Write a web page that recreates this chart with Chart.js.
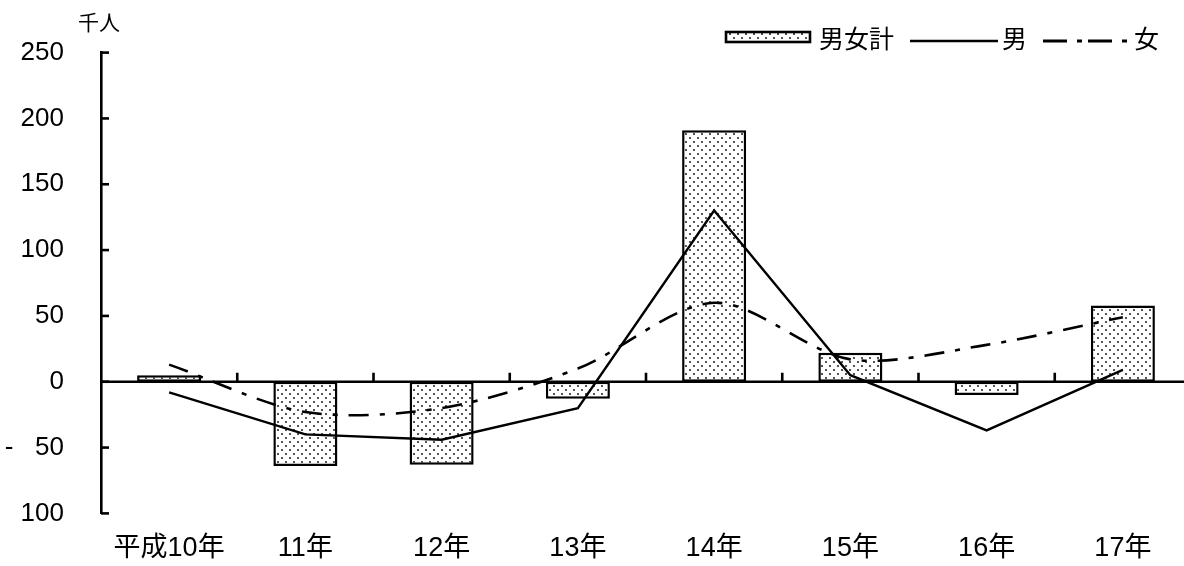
<!DOCTYPE html>
<html lang="ja">
<head>
<meta charset="utf-8">
<title>就業者数の対前年増減</title>
<script src="https://cdn.jsdelivr.net/npm/chart.js@4.4.1/dist/chart.umd.min.js"></script>
<style>
  html, body { margin: 0; padding: 0; background: #fff; overflow: hidden; }
  #wrap { position: relative; width: 1191px; height: 566px; }
</style>
</head>
<body>
<div id="wrap"><canvas id="chart" width="1191" height="566"></canvas></div>
<script>
// 年次ごとの対前年増減（千人）
const categories = ['平成10年', '11年', '12年', '13年', '14年', '15年', '16年', '17年'];
const totalValues = [5, -64, -63, -13, 191, 22, -10, 58];
const maleValues = [-8, -40, -44, -20, 130, 5, -37, 9];
const femaleValues = [13, -23, -20, 10, 60, 17, 28, 49];
const yTickLabels = { 250: '250', 200: '200', 150: '150', 100: '100', 50: '50', 0: '0', '-50': '-   50', '-100': '100' };

const FONT = "'Liberation Sans', Arial, 'Noto Sans CJK JP', sans-serif";

// 網点（ドット）塗りつぶし
function dotPattern() {
  const c = document.createElement('canvas');
  c.width = 8; c.height = 8;
  const g = c.getContext('2d');
  g.fillStyle = '#ffffff';
  g.fillRect(0, 0, 8, 8);
  g.fillStyle = '#555555';
  g.fillRect(1, 1, 2, 2);
  g.fillRect(5, 5, 2, 2);
  return g.createPattern(c, 'repeat');
}
const pattern = dotPattern();

// 軸線・目盛り・凡例・単位
const axisPlugin = {
  id: 'axisDecor',
  beforeDatasetsDraw(chart) {
    const { ctx, chartArea, scales } = chart;
    const x = scales.x, y = scales.y;
    const y0 = y.getPixelForValue(0);
    ctx.save();
    ctx.strokeStyle = '#000';
    ctx.lineWidth = 2.6;
    // ゼロ線
    ctx.beginPath();
    ctx.moveTo(chartArea.left, y0);
    ctx.lineTo(chartArea.right + 2, y0);
    ctx.stroke();
    // 区切り目盛り（上向き）
    for (let i = 1; i < categories.length; i++) {
      const px = (x.getPixelForValue(i - 1) + x.getPixelForValue(i)) / 2;
      ctx.beginPath();
      ctx.moveTo(px, y0);
      ctx.lineTo(px, y0 - 9);
      ctx.stroke();
    }
    // 縦軸の内向き目盛り
    y.ticks.forEach(t => {
      const py = y.getPixelForValue(t.value);
      ctx.beginPath();
      ctx.moveTo(chartArea.left, py);
      ctx.lineTo(chartArea.left + 8, py);
      ctx.stroke();
    });
    ctx.restore();
  },
  afterDraw(chart) {
    const { ctx } = chart;
    ctx.save();
    // 単位
    ctx.fillStyle = '#000';
    ctx.font = '21px ' + FONT;
    ctx.textBaseline = 'middle';
    ctx.textAlign = 'left';
    ctx.fillText('千人', 78, 24);

    // 凡例
    const ly = 41;
    ctx.font = '25px ' + FONT;
    // 男女計
    ctx.fillStyle = pattern;
    ctx.fillRect(726, 32, 84, 10);
    ctx.strokeStyle = '#000';
    ctx.lineWidth = 2.6;
    ctx.strokeRect(726, 32, 84, 10);
    ctx.fillStyle = '#000';
    ctx.fillText('男女計', 819, ly);
    // 男
    ctx.lineWidth = 2.4;
    ctx.beginPath();
    ctx.moveTo(910, ly);
    ctx.lineTo(998, ly);
    ctx.stroke();
    ctx.fillText('男', 1002, ly);
    // 女
    ctx.lineWidth = 2.8;
    ctx.setLineDash([24, 10, 5, 6]);
    ctx.beginPath();
    ctx.moveTo(1043, ly);
    ctx.lineTo(1128, ly);
    ctx.stroke();
    ctx.setLineDash([]);
    ctx.fillText('女', 1134, ly);
    ctx.restore();
  }
};

new Chart(document.getElementById('chart'), {
  type: 'bar',
  data: {
    labels: categories,
    datasets: [
      {
        type: 'bar',
        label: '男女計',
        data: totalValues,
        backgroundColor: pattern,
        borderColor: '#000',
        borderWidth: 2.5,
        borderSkipped: false,
        categoryPercentage: 1.0,
        barPercentage: 0.47,
        order: 3
      },
      {
        type: 'line',
        label: '男',
        data: maleValues,
        borderColor: '#000',
        borderWidth: 2.4,
        pointRadius: 0,
        tension: 0,
        fill: false,
        order: 1
      },
      {
        type: 'line',
        label: '女',
        data: femaleValues,
        borderColor: '#000',
        borderWidth: 2.6,
        borderDash: [20, 11, 5, 11],
        pointRadius: 0,
        tension: 0.3,
        fill: false,
        order: 2
      }
    ]
  },
  options: {
    responsive: false,
    animation: false,
    devicePixelRatio: 1,
    layout: { padding: { left: 0, right: 0, top: 49, bottom: 0 } },
    plugins: {
      legend: { display: false },
      tooltip: { enabled: false }
    },
    scales: {
      x: {
        offset: true,
        grid: { display: false, drawTicks: false },
        border: { display: false },
        ticks: {
          color: '#000',
          font: { family: FONT, size: 27 },
          padding: 19,
          maxRotation: 0,
          autoSkip: false
        },
        afterFit(scale) { scale.height = 51; }
      },
      y: {
        min: -100,
        max: 250,
        grid: { display: false, drawTicks: false },
        border: { display: true, color: '#000', width: 2.6 },
        ticks: {
          stepSize: 50,
          color: '#000',
          font: { family: FONT, size: 26 },
          padding: 37,
          callback: (v) => yTickLabels[v] !== undefined ? yTickLabels[v] : ''
        },
        afterFit(scale) { scale.width = 101; }
      }
    }
  },
  plugins: [axisPlugin]
});
</script>
</body>
</html>
